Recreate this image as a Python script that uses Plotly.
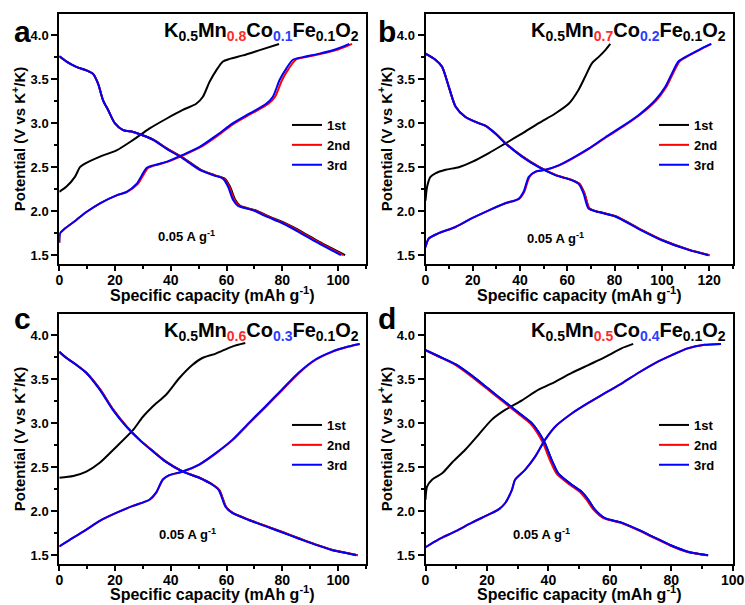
import plotly.graph_objects as go
from plotly.subplots import make_subplots

# ---------------- data ----------------
# Panel a : K0.5Mn0.8Co0.1Fe0.1O2
A_CH1_CAP = [0, 2.6, 5.6, 7.4, 8.6, 14.6, 20.5, 26.5, 32.4, 38.4, 44.3, 49.1, 51.5, 53.9, 56.3, 58.7, 61.1, 65.9, 71.9, 78.8]
A_CH1_V = [2.22, 2.28, 2.39, 2.50, 2.53, 2.62, 2.69, 2.81, 2.94, 3.05, 3.15, 3.22, 3.30, 3.47, 3.60, 3.70, 3.73, 3.77, 3.83, 3.90]
A_CH_V = [1.64, 1.75, 1.80, 1.90, 1.99, 2.09, 2.18, 2.22, 2.31, 2.49, 2.52, 2.56, 2.64, 2.73, 2.86, 3.00, 3.11, 3.22, 3.30, 3.49, 3.62, 3.72, 3.75, 3.79, 3.84, 3.90]
A_CH3_CAP = [0, 0.3, 1.9, 6.1, 9.7, 14.6, 20.5, 24.1, 27.7, 31.3, 33.7, 38.4, 44.3, 50.3, 56.3, 62.3, 68.3, 74.2, 76.6, 79.0, 81.4, 83.8, 87.3, 93.3, 99.2, 104.0]
A_CH2_CAP = [0, 0.3, 1.9, 6.1, 9.7, 14.6, 20.6, 24.4, 28.2, 31.8, 34.1, 38.8, 44.8, 50.8, 56.9, 62.9, 69.0, 75.0, 77.4, 79.9, 82.3, 84.8, 88.3, 94.3, 100.3, 105.0]
A_DIS_V = [3.76, 3.70, 3.64, 3.60, 3.56, 3.45, 3.26, 3.15, 3.00, 2.92, 2.90, 2.86, 2.81, 2.71, 2.60, 2.47, 2.41, 2.37, 2.28, 2.13, 2.06, 2.01, 1.94, 1.86, 1.76, 1.65, 1.50]
A_DIS3_CAP = [0, 2.6, 6.1, 9.7, 12.1, 13.9, 15.7, 17.5, 19.9, 22.9, 26.5, 30.1, 33.7, 38.4, 44.3, 50.3, 55.1, 58.7, 60.5, 62.3, 64.1, 69.5, 74.2, 80.2, 86.1, 92.1, 101.0]
A_DIS2_CAP = [0, 2.6, 6.1, 9.7, 12.1, 13.9, 15.7, 17.5, 19.9, 22.9, 26.5, 30.1, 33.8, 38.6, 44.6, 50.6, 55.5, 59.1, 60.9, 62.8, 64.6, 70.0, 74.8, 80.8, 86.8, 92.8, 101.8]
A_DIS1_CAP = [0, 2.6, 6.1, 9.7, 12.1, 13.9, 15.7, 17.5, 19.9, 22.9, 26.5, 30.1, 33.9, 38.7, 44.7, 50.8, 55.7, 59.3, 61.2, 63.1, 64.9, 70.3, 75.2, 81.2, 87.3, 93.3, 102.5]

# Panel b : K0.5Mn0.7Co0.2Fe0.1O2
B_CH1_CAP = [0, 0.7, 2.1, 4.2, 8.5, 14.1, 19.7, 26.8, 33.8, 40.8, 47.9, 54.9, 60.6, 64.8, 67.6, 70.4, 73.2, 76.1, 78.2]
B_CH1_V = [2.12, 2.28, 2.39, 2.43, 2.47, 2.50, 2.56, 2.66, 2.77, 2.88, 3.00, 3.11, 3.22, 3.38, 3.53, 3.68, 3.75, 3.83, 3.90]
B_CH_V = [1.59, 1.69, 1.75, 1.82, 1.92, 2.01, 2.09, 2.14, 2.22, 2.39, 2.45, 2.47, 2.52, 2.60, 2.71, 2.84, 2.96, 3.09, 3.26, 3.41, 3.56, 3.70, 3.75, 3.83, 3.90]
B_CH3_CAP = [0, 1.4, 5.6, 12.7, 19.7, 26.8, 33.8, 39.4, 41.5, 43.7, 46.5, 50.7, 56.3, 62.0, 69.0, 76.1, 83.1, 90.1, 97.2, 101.4, 104.2, 107.0, 109.9, 115.5, 120.8]
B_CH2_CAP = [0, 1.4, 5.6, 12.7, 19.7, 26.8, 33.8, 39.6, 41.8, 44.0, 46.8, 51.0, 56.6, 62.3, 69.3, 76.5, 83.5, 90.5, 97.7, 101.9, 104.7, 107.5, 110.3, 115.8, 121.0]
B_DIS_V = [3.79, 3.72, 3.64, 3.41, 3.19, 3.07, 3.00, 2.97, 2.88, 2.77, 2.62, 2.50, 2.41, 2.35, 2.31, 2.20, 2.03, 1.99, 1.94, 1.80, 1.67, 1.56, 1.50]
B_DIS3_CAP = [0, 4.2, 7.0, 9.9, 12.7, 16.9, 22.5, 25.4, 29.6, 33.8, 40.8, 47.9, 54.9, 62.0, 64.8, 66.9, 69.0, 73.2, 80.3, 90.1, 100.0, 111.3, 119.7]
B_DIS2_CAP = [0, 4.2, 7.0, 9.9, 12.7, 16.9, 22.5, 25.5, 29.8, 34.0, 41.1, 48.2, 55.2, 62.3, 65.2, 67.3, 69.4, 73.6, 80.7, 90.5, 100.4, 111.7, 120.2]

# Panel c : K0.5Mn0.6Co0.3Fe0.1O2
C_CH1_CAP = [0, 5.0, 9.7, 14.5, 20.4, 26.4, 29.9, 33.5, 38.2, 43.0, 47.7, 51.3, 56.1, 62.0, 66.7]
C_CH1_V = [2.38, 2.40, 2.45, 2.55, 2.73, 2.92, 3.07, 3.19, 3.32, 3.51, 3.66, 3.74, 3.79, 3.87, 3.91]
C_CH_V = [1.60, 1.70, 1.79, 1.89, 1.98, 2.06, 2.13, 2.21, 2.36, 2.41, 2.45, 2.53, 2.66, 2.81, 3.00, 3.19, 3.38, 3.57, 3.72, 3.81, 3.87, 3.90]
C_CH3_CAP = [0, 5.0, 9.7, 14.5, 20.4, 26.4, 32.3, 34.7, 37.1, 39.4, 44.2, 50.1, 56.1, 62.0, 67.9, 73.9, 79.8, 85.7, 91.7, 97.6, 103.6, 107.7]
C_CH2_CAP = [0, 5.0, 9.7, 14.5, 20.4, 26.4, 32.4, 34.8, 37.2, 39.6, 44.4, 50.3, 56.3, 62.3, 68.2, 74.2, 80.1, 86.0, 92.0, 97.9, 103.8, 107.8]
C_DIS_V = [3.81, 3.74, 3.66, 3.57, 3.38, 3.15, 2.96, 2.81, 2.68, 2.56, 2.45, 2.38, 2.30, 2.24, 2.05, 1.98, 1.90, 1.83, 1.76, 1.69, 1.62, 1.56, 1.52, 1.50]
C_DIS3_CAP = [0, 2.6, 6.2, 9.7, 14.5, 19.2, 24.0, 28.7, 33.5, 38.2, 44.2, 50.1, 54.9, 57.2, 59.6, 62.0, 67.9, 73.9, 79.8, 85.7, 91.7, 97.6, 103.6, 106.5]
C_DIS2_CAP = [0, 2.6, 6.2, 9.8, 14.7, 19.4, 24.2, 28.9, 33.7, 38.4, 44.4, 50.3, 55.1, 57.4, 59.8, 62.2, 68.2, 74.2, 80.2, 86.1, 92.1, 98.0, 104.0, 107.0]

# Panel d : K0.5Mn0.5Co0.4Fe0.1O2
D_CH1_CAP = [0, 0.5, 2.2, 5.4, 8.6, 13.0, 17.3, 21.6, 25.9, 31.4, 36.8, 42.2, 47.6, 53.0, 58.4, 63.8, 67.6]
D_CH1_V = [2.13, 2.28, 2.36, 2.43, 2.55, 2.70, 2.87, 3.04, 3.15, 3.26, 3.38, 3.47, 3.57, 3.66, 3.75, 3.85, 3.90]
D_CH_V = [1.59, 1.68, 1.77, 1.87, 1.96, 2.02, 2.09, 2.24, 2.36, 2.47, 2.62, 2.81, 2.96, 3.11, 3.23, 3.34, 3.45, 3.57, 3.68, 3.77, 3.85, 3.89, 3.90]
D_CH3_CAP = [0, 4.3, 9.7, 15.1, 20.5, 23.8, 25.9, 28.1, 29.2, 32.4, 35.7, 38.9, 42.2, 47.6, 53.0, 58.4, 63.8, 69.2, 74.6, 80.0, 85.4, 90.8, 96.2]
D_CH2_CAP = [0, 4.3, 9.7, 15.1, 20.5, 23.8, 25.9, 28.1, 29.2, 32.4, 35.7, 38.9, 42.2, 47.6, 53.0, 58.4, 63.8, 69.2, 74.6, 80.0, 85.4, 91.0, 96.0]
D_DIS_V = [3.83, 3.76, 3.67, 3.54, 3.39, 3.24, 3.09, 3.00, 2.90, 2.77, 2.58, 2.43, 2.30, 2.22, 2.13, 2.02, 1.92, 1.87, 1.79, 1.70, 1.61, 1.54, 1.50]
D_DIS3_CAP = [0, 4.3, 9.7, 15.1, 20.5, 25.9, 31.4, 34.6, 36.8, 38.9, 41.1, 43.2, 47.6, 50.8, 53.0, 55.1, 58.4, 63.8, 69.2, 74.6, 80.0, 85.4, 92.0]
D_DIS2_CAP = [0, 4.0, 9.3, 14.6, 20.0, 25.4, 30.8, 34.0, 36.2, 38.3, 40.5, 42.6, 47.0, 50.2, 52.4, 54.6, 57.9, 63.3, 68.8, 74.2, 79.6, 85.0, 91.8]

CYCLE_NAMES = ["1st", "2nd", "3rd"]
CYCLE_COLORS = ["#000000", "#ff0000", "#0000ff"]
MN = ["0.8", "0.7", "0.6", "0.5"]
CO = ["0.1", "0.2", "0.3", "0.4"]
PANEL_LETTERS = ["a", "b", "c", "d"]
X_RANGES = [[0, 110], [0, 130], [0, 110], [0, 100]]
Y_RANGE = [1.4, 4.24]
RATE_POS = [(45.7, 1.72), (54.8, 1.70), (45.8, 1.74), (37.6, 1.74)]
X_TITLE = "Specific capacity (mAh g<sup>-1</sup>)"
Y_TITLE = "Potential (V vs K<sup>+</sup>/K)"

panels = [
    dict(ch=[(A_CH1_CAP, A_CH1_V), (A_CH2_CAP, A_CH_V), (A_CH3_CAP, A_CH_V)],
         dis=[(A_DIS1_CAP, A_DIS_V), (A_DIS2_CAP, A_DIS_V), (A_DIS3_CAP, A_DIS_V)]),
    dict(ch=[(B_CH1_CAP, B_CH1_V), (B_CH2_CAP, B_CH_V), (B_CH3_CAP, B_CH_V)],
         dis=[(B_DIS2_CAP, B_DIS_V), (B_DIS2_CAP, B_DIS_V), (B_DIS3_CAP, B_DIS_V)]),
    dict(ch=[(C_CH1_CAP, C_CH1_V), (C_CH2_CAP, C_CH_V), (C_CH3_CAP, C_CH_V)],
         dis=[(C_DIS2_CAP, C_DIS_V), (C_DIS2_CAP, C_DIS_V), (C_DIS3_CAP, C_DIS_V)]),
    dict(ch=[(D_CH1_CAP, D_CH1_V), (D_CH2_CAP, D_CH_V), (D_CH3_CAP, D_CH_V)],
         dis=[(D_DIS3_CAP, D_DIS_V), (D_DIS2_CAP, D_DIS_V), (D_DIS3_CAP, D_DIS_V)]),
]

# ---------------- figure ----------------
W, H = 745, 605
FONT = "Liberation Sans, Arial, sans-serif"
fig = make_subplots(rows=2, cols=2)

xdom = [[59.3 / W, 366 / W], [425.5 / W, 732.7 / W]]
ydom = [[1 - 264 / H, 1 - 14 / H], [1 - 564 / H, 1 - 314 / H]]
legend_pos = [(287, 110), (654, 110), (287, 410), (654, 410)]
letter_pos = [(12, 32), (376, 32), (12, 318), (376, 318)]
xtitle_y = [294, 294, 593, 593]

annotations = []
for i, p in enumerate(panels):
    r, c = i // 2 + 1, i % 2 + 1
    leg = "legend" if i == 0 else f"legend{i + 1}"
    for k in range(3):
        xs = list(p["ch"][k][0]) + [None] + list(p["dis"][k][0])
        ys = list(p["ch"][k][1]) + [None] + list(p["dis"][k][1])
        fig.add_trace(go.Scatter(x=xs, y=ys, mode="lines", name=CYCLE_NAMES[k],
                                 line=dict(color=CYCLE_COLORS[k], width=2, shape="spline", smoothing=0.7),
                                 legend=leg, showlegend=True), row=r, col=c)
    xa = "xaxis" if i == 0 else f"xaxis{i + 1}"
    ya = "yaxis" if i == 0 else f"yaxis{i + 1}"
    fig.layout[xa].update(
        domain=xdom[c - 1], range=X_RANGES[i], dtick=20, tick0=0, automargin=False,
        showline=True, linewidth=2, linecolor="black", mirror=True,
        ticks="outside", ticklen=5, tickwidth=2, tickcolor="black", ticklabelstandoff=-3,
        minor=dict(ticks="outside", ticklen=3, tickwidth=1.5, tickcolor="black", dtick=10, tick0=0),
        showgrid=False, zeroline=False,
        tickfont=dict(family=FONT, size=14, color="black", weight="bold"),
    )
    fig.layout[ya].update(
        domain=ydom[r - 1], range=Y_RANGE, dtick=0.5, tick0=0, tickformat=".1f", automargin=False,
        showline=True, linewidth=2, linecolor="black", mirror=True,
        ticks="outside", ticklen=6, tickwidth=2, tickcolor="black",
        minor=dict(ticks="outside", ticklen=3, tickwidth=1.5, tickcolor="black", dtick=0.25, tick0=0),
        showgrid=False, zeroline=False,
        tickfont=dict(family=FONT, size=13, color="black", weight="bold"),
        title=dict(text=Y_TITLE, standoff=1,
                   font=dict(family=FONT, size=15, color="black", weight="bold")),
    )
    lx, ly = legend_pos[i]
    fig.layout[leg] = dict(x=lx / W, y=1 - ly / H, xanchor="left", yanchor="top",
                           bgcolor="rgba(0,0,0,0)", borderwidth=0, itemwidth=30,
                           tracegroupgap=0, itemclick=False,
                           font=dict(family=FONT, size=13, color="black", weight="bold"))
    xref = "x" if i == 0 else f"x{i + 1}"
    yref = "y" if i == 0 else f"y{i + 1}"
    formula = ("K<sub>0.5</sub>Mn<sub><span style='color:#ff2a2a'>" + MN[i] +
               "</span></sub>Co<sub><span style='color:#2a3cff'>" + CO[i] +
               "</span></sub>Fe<sub>0.1</sub>O<sub>2</sub>")
    annotations.append(dict(text=formula, xref=xref + " domain", yref=yref + " domain",
                            x=0.985, y=0.93, xanchor="right", yanchor="middle", showarrow=False,
                            font=dict(family=FONT, size=20, color="black", weight="bold")))
    annotations.append(dict(text="0.05 A g<sup>-1</sup>", xref=xref, yref=yref,
                            x=RATE_POS[i][0], y=RATE_POS[i][1], showarrow=False,
                            xanchor="center", yanchor="middle",
                            font=dict(family=FONT, size=13, color="black", weight="bold")))
    annotations.append(dict(text=X_TITLE, xref=xref + " domain", yref="paper",
                            x=0.5, y=1 - xtitle_y[i] / H, xanchor="center", yanchor="middle",
                            showarrow=False,
                            font=dict(family=FONT, size=16, color="black", weight="bold")))
    px_, py_ = letter_pos[i]
    annotations.append(dict(text=PANEL_LETTERS[i], xref="paper", yref="paper",
                            x=px_ / W, y=1 - py_ / H, xanchor="left", yanchor="middle",
                            showarrow=False,
                            font=dict(family=FONT, size=30, color="black", weight="bold")))

fig.update_layout(width=W, height=H, autosize=False,
                  margin=dict(l=0, r=0, t=0, b=0),
                  paper_bgcolor="white", plot_bgcolor="white",
                  annotations=annotations)

fig.write_html("out.html", config={"displayModeBar": False},
               post_script="document.body.style.margin='0';document.body.style.overflow='hidden';")
